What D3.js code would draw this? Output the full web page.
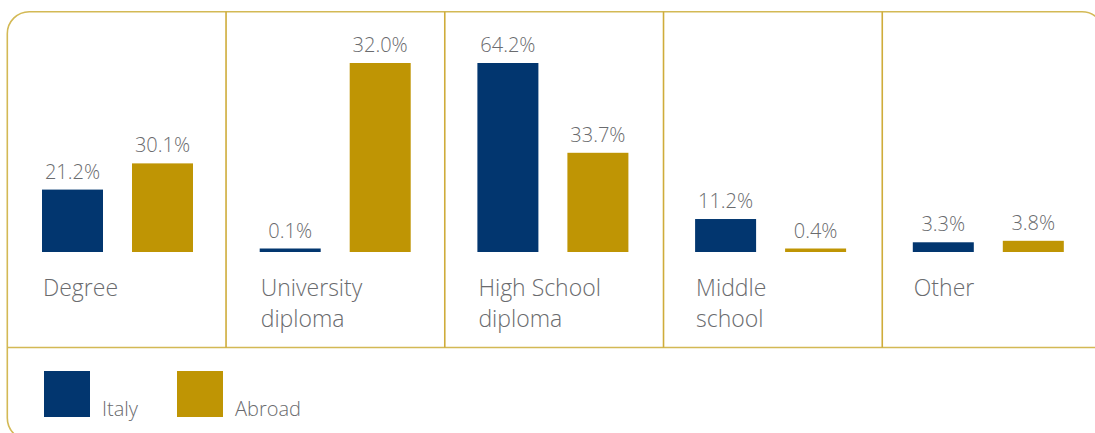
<!DOCTYPE html>
<html>
<head>
<meta charset="utf-8">
<script src="https://cdn.jsdelivr.net/npm/d3@7"></script>
<style>
  body { margin: 0; background: #fff; }
  text { font-family: "Open Sans", "Noto Sans", sans-serif; font-weight: 300; fill: #6a6b6e; }
</style>
</head>
<body>
<div class="chart"></div>
<script>
// Data
const categories = ["Degree", "University\ndiploma", "High School\ndiploma", "Middle\nschool", "Other"];
const italy = [21.2, 0.1, 64.2, 11.2, 3.3];
const abroad = [30.1, 32.0, 33.7, 0.4, 3.8];
// the original draws the University "Abroad" bar as tall as the 64.2% bar
const abroadBar = [30.1, 64.2, 33.7, 0.4, 3.8];
const series = ["Italy", "Abroad"];

const width = 1095;
const height = 433;
const colors = { Italy: "#02366f", Abroad: "#bf9504" };
const border = "#d3b955";

const svg = d3
  .select(".chart")
  .append("svg")
  .attr("width", width)
  .attr("height", height);

// Frame
const frame = { left: 7.3, top: 11.7, right: 1104, bottom: 440 };
const divY = 347.5;

svg
  .append("rect")
  .attr("x", frame.left)
  .attr("y", frame.top)
  .attr("width", frame.right - frame.left)
  .attr("height", frame.bottom - frame.top)
  .attr("rx", 22)
  .attr("fill", "none")
  .attr("stroke", border)
  .attr("stroke-width", 1.6);

// Sections (dividers) and bar groups
const xSection = d3
  .scaleBand()
  .domain(categories)
  .range([frame.left, 1101]);

const xGroup = d3
  .scaleBand()
  .domain(categories)
  .range([42, 42 + 5 * 217.7]);

const yScale = d3.scaleLinear().domain([0, 64.2]).range([252, 63]);
const minH = 3.5;

svg
  .append("line")
  .attr("x1", frame.left)
  .attr("x2", width)
  .attr("y1", divY)
  .attr("y2", divY)
  .attr("stroke", border)
  .attr("stroke-width", 1.6);

svg
  .append("g")
  .selectAll("line")
  .data(categories.slice(1))
  .enter()
  .append("line")
  .attr("x1", (d) => xSection(d))
  .attr("x2", (d) => xSection(d))
  .attr("y1", frame.top)
  .attr("y2", divY)
  .attr("stroke", "#cfac3a")
  .attr("stroke-width", 1.6);

// Bars
const barW = 61;
const offset = { Italy: 0, Abroad: 90 };

const rows = [];
categories.forEach((c, i) => {
  rows.push({ cat: c, s: "Italy", v: italy[i], bar: italy[i] });
  rows.push({ cat: c, s: "Abroad", v: abroad[i], bar: abroadBar[i] });
});

const barTop = (d) => Math.min(yScale(d.bar), yScale(0) - minH);

const marks = svg.append("g").selectAll("g").data(rows).enter().append("g");

marks
  .append("rect")
  .attr("x", (d) => xGroup(d.cat) + offset[d.s])
  .attr("y", barTop)
  .attr("width", barW)
  .attr("height", (d) => yScale(0) - barTop(d))
  .attr("fill", (d) => colors[d.s]);

marks
  .append("text")
  .attr("x", (d) => xGroup(d.cat) + offset[d.s] + barW / 2)
  .attr("y", (d) => barTop(d) - 11)
  .attr("text-anchor", "middle")
  .attr("font-size", 20)
  .text((d) => d.v.toFixed(1) + "%");

// Category labels
const catLabels = svg
  .append("g")
  .selectAll("text")
  .data(categories)
  .enter()
  .append("text")
  .attr("x", (d) => xGroup(d) + 1)
  .attr("y", 296)
  .attr("font-size", 23);

catLabels
  .selectAll("tspan")
  .data((d) => d.split("\n"))
  .enter()
  .append("tspan")
  .attr("x", function () {
    return d3.select(this.parentNode).attr("x");
  })
  .attr("dy", (d, i) => (i === 0 ? 0 : 31))
  .text((d) => d);

// Legend
const legendX = { Italy: 44, Abroad: 177 };
const legend = svg
  .append("g")
  .selectAll("g")
  .data(series)
  .enter()
  .append("g");

legend
  .append("rect")
  .attr("x", (d) => legendX[d])
  .attr("y", 371)
  .attr("width", 46)
  .attr("height", 46)
  .attr("fill", (d) => colors[d]);

legend
  .append("text")
  .attr("x", (d) => legendX[d] + 58)
  .attr("y", 415.5)
  .attr("font-size", 20)
  .text((d) => d);
</script>
</body>
</html>
